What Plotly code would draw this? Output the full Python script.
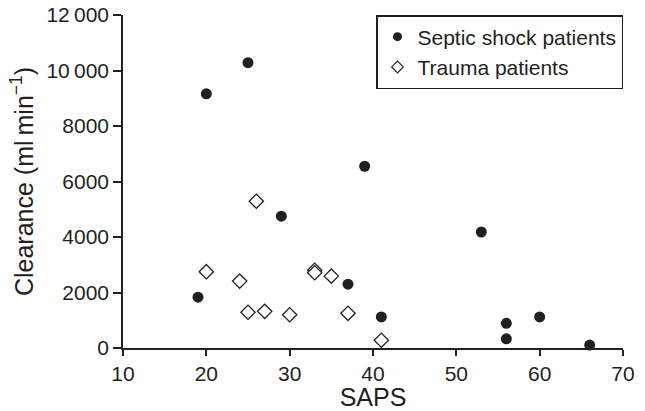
import plotly.graph_objects as go

# Data
septic_saps = [19, 20, 25, 29, 37, 39, 41, 53, 56, 56, 60, 66]
septic_clearance = [1830, 9160, 10280, 4750, 2300, 6550, 1120, 4180, 890, 330, 1120, 105]

trauma_saps = [20, 24, 25, 26, 27, 30, 33, 33, 35, 37, 41]
trauma_clearance = [2750, 2410, 1290, 5290, 1320, 1200, 2800, 2710, 2590, 1250, 280]

x_ticks = [10, 20, 30, 40, 50, 60, 70]
y_tickvals = [0, 2000, 4000, 6000, 8000, 10000, 12000]
y_ticktext = ["0", "2000", "4000", "6000", "8000", "10\u2009000", "12\u2009000"]

INK = "#231f20"
FONT = "Liberation Sans, Arial, Helvetica, sans-serif"

fig = go.Figure()
fig.add_trace(go.Scatter(
    x=septic_saps, y=septic_clearance, mode="markers",
    name="Septic shock patients", showlegend=False,
    marker=dict(symbol="circle", size=11, color=INK, line=dict(width=0)),
    cliponaxis=False,
))
fig.add_trace(go.Scatter(
    x=trauma_saps, y=trauma_clearance, mode="markers",
    name="Trauma patients", showlegend=False,
    marker=dict(symbol="diamond", size=11, color="white", line=dict(width=1.3, color=INK)),
    cliponaxis=False,
))
# legend entries (smaller symbols, as in the reference legend)
fig.add_trace(go.Scatter(
    x=[None], y=[None], mode="markers", name="Septic shock patients",
    marker=dict(symbol="circle", size=9, color=INK, line=dict(width=0)),
))
fig.add_trace(go.Scatter(
    x=[None], y=[None], mode="markers", name="Trauma patients",
    marker=dict(symbol="diamond", size=9, color="white", line=dict(width=1.2, color=INK)),
))

fig.update_layout(
    width=645, height=411,
    margin=dict(l=123, r=22, t=15, b=63, autoexpand=False),
    paper_bgcolor="white", plot_bgcolor="white",
    font=dict(family=FONT, size=21, color=INK),
    showlegend=True,
    legend=dict(
        x=1, y=1, xanchor="right", yanchor="top",
        bgcolor="white", bordercolor=INK, borderwidth=1.5,
        font=dict(size=21, color=INK),
        itemwidth=30, tracegroupgap=0,
    ),
    xaxis=dict(
        range=[10, 70], tickvals=x_ticks, ticks="outside", ticklen=6, tickwidth=1.5,
        tickcolor=INK, showline=True, linecolor=INK, linewidth=2.2, showgrid=False,
        zeroline=False, automargin=False, title=dict(text="SAPS", standoff=8),
    ),
    yaxis=dict(
        range=[0, 12000], tickvals=y_tickvals, ticktext=y_ticktext, ticks="outside",
        ticklen=8, tickwidth=1.5, tickcolor=INK, showline=True, linecolor=INK,
        linewidth=1.5, showgrid=False, zeroline=False, automargin=False,
        title=dict(text="Clearance (ml\u2009min<sup>\u22121</sup>)", standoff=6),
    ),
)

# remove the browser's default 8px body margin so the figure fills the window
fig.write_html("out.html", config={"displayModeBar": False},
               post_script="document.body.style.margin='0';")
